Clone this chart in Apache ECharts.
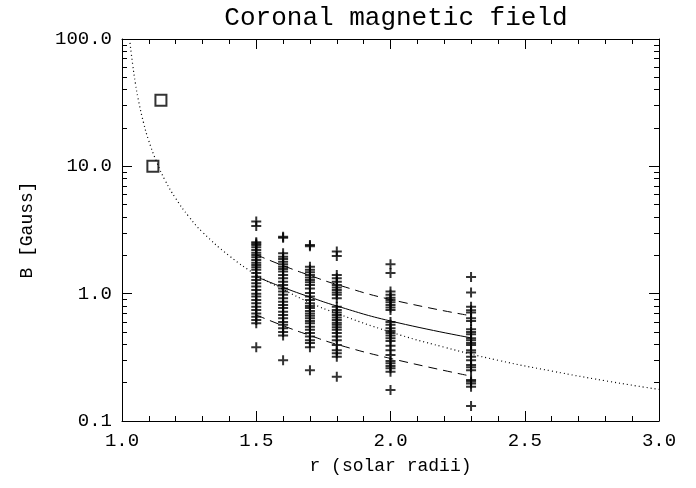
<!DOCTYPE html>
<html>
<head>
<meta charset="utf-8">
<script src="https://cdn.jsdelivr.net/npm/echarts@6/dist/echarts.min.js"></script>
<style>
  html, body { margin: 0; padding: 0; background: #fff; }
  #chart { width: 696px; height: 488px; }
</style>
</head>
<body>
<div id="chart"></div>
<script>
const chart = echarts.init(document.getElementById('chart'));

// measured field strengths (r, B) per radial distance
const r15 = [3.68, 3.40, 2.53, 2.48, 2.41, 2.31, 2.20, 2.10, 2.01, 1.93, 1.84, 1.75, 1.68, 1.61, 1.54, 1.45, 1.36, 1.28, 1.21, 1.14, 1.07, 1.00, 0.95, 0.89, 0.84, 0.79, 0.745, 0.70, 0.66, 0.62, 0.585, 0.38];
const r16 = [2.80, 2.75, 2.08, 1.95, 1.87, 1.78, 1.70, 1.63, 1.56, 1.49, 1.40, 1.32, 1.24, 1.17, 1.10, 1.04, 0.98, 0.92, 0.865, 0.815, 0.77, 0.72, 0.68, 0.64, 0.60, 0.57, 0.535, 0.50, 0.47, 0.30];
const r17 = [2.41, 2.36, 1.63, 1.54, 1.47, 1.40, 1.34, 1.28, 1.23, 1.17, 1.10, 1.01, 0.95, 0.89, 0.84, 0.80, 0.77, 0.73, 0.70, 0.67, 0.64, 0.61, 0.585, 0.55, 0.52, 0.49, 0.46, 0.43, 0.41, 0.38, 0.25];
const r18 = [2.14, 1.98, 1.40, 1.32, 1.24, 1.17, 1.12, 1.07, 1.02, 0.98, 0.92, 0.79, 0.745, 0.71, 0.68, 0.65, 0.62, 0.59, 0.57, 0.545, 0.52, 0.49, 0.46, 0.43, 0.395, 0.36, 0.34, 0.32, 0.223];
const r20 = [1.70, 1.45, 1.04, 0.98, 0.93, 0.89, 0.855, 0.815, 0.78, 0.745, 0.60, 0.57, 0.535, 0.51, 0.49, 0.47, 0.447, 0.425, 0.39, 0.36, 0.33, 0.296, 0.284, 0.27, 0.26, 0.244, 0.175];
const r23 = [1.35, 1.02, 0.79, 0.74, 0.71, 0.64, 0.61, 0.525, 0.50, 0.48, 0.447, 0.43, 0.41, 0.395, 0.36, 0.345, 0.32, 0.30, 0.275, 0.264, 0.25, 0.21, 0.204, 0.197, 0.186, 0.131];
const columns = [[1.5, r15], [1.6, r16], [1.7, r17], [1.8, r18], [2.0, r20], [2.3, r23]];

// low-corona estimates (squares)
const squares = [[1.115, 10.0], [1.145, 33.0]];

// fit and spread
const fitR = [1.5, 1.6, 1.7, 1.8, 2.0, 2.3];
const fitB = [1.36, 1.12, 0.94, 0.80, 0.61, 0.45];
const upperB = [2.02, 1.66, 1.39, 1.18, 0.90, 0.67];
const lowerB = [0.68, 0.56, 0.47, 0.40, 0.31, 0.225];

// model curve (dotted)
const modelR = [1.028, 1.04, 1.05, 1.06, 1.08, 1.10, 1.13, 1.16, 1.20, 1.25, 1.30, 1.40, 1.50, 1.60, 1.70, 1.80, 2.0, 2.2, 2.4, 2.6, 2.8, 3.0];
const modelB = [100, 62.5, 44.7, 34.0, 22.1, 15.8, 10.7, 7.8, 5.6, 4.0, 3.04, 1.98, 1.41, 1.08, 0.85, 0.70, 0.50, 0.38, 0.30, 0.247, 0.207, 0.177];

const yMinorTicks = [0.2, 0.3, 0.4, 0.5, 0.6, 0.7, 0.8, 0.9, 2, 3, 4, 5, 6, 7, 8, 9, 20, 30, 40, 50, 60, 70, 80, 90];

const font = '"Liberation Mono", monospace';
const crossPath = 'path://M4,0H6V4H10V6H6V10H4V6H0V4H4Z';

const crosses = [];
columns.forEach(([r, vals]) => vals.forEach(b => crosses.push([r, b])));
const zip = (xs, ys) => xs.map((x, i) => [x, ys[i]]);

const axisLine = { show: true, onZero: false, lineStyle: { color: '#000', width: 1 } };

const xBase = {
  type: 'value', min: 1, max: 3, interval: 0.5,
  axisLine,
  axisTick: { inside: true, length: 10, lineStyle: { color: '#000' } },
  minorTick: { show: true, splitNumber: 5, length: 5, lineStyle: { color: '#000' } },
  splitLine: { show: false }
};
const yBase = {
  type: 'log', logBase: 10, min: 0.1, max: 100,
  axisLine,
  axisTick: { inside: true, length: 10, lineStyle: { color: '#000' } },
  splitLine: { show: false }
};
const yMinor = {
  type: 'log', logBase: 10, min: 0.1, max: 100,
  axisLine: { show: false },
  axisLabel: { show: false },
  axisTick: { inside: true, length: 5, customValues: yMinorTicks, lineStyle: { color: '#000' } },
  splitLine: { show: false }
};

const option = {
  backgroundColor: '#fff',
  animation: false,
  title: {
    text: 'Coronal magnetic field',
    left: 391, top: 0, textAlign: 'center',
    textStyle: { fontFamily: font, fontSize: 26, fontWeight: 'normal', color: '#000' }
  },
  grid: { left: 122, right: 37, top: 39, bottom: 67, containLabel: false, outerBoundsMode: 'none' },
  xAxis: [
    Object.assign({}, xBase, {
      position: 'bottom',
      name: 'r (solar radii)', nameLocation: 'middle', nameGap: 36,
      nameTextStyle: { fontFamily: font, fontSize: 18, color: '#000' },
      axisLabel: { fontFamily: font, fontSize: 19, color: '#000', margin: 10, formatter: v => v.toFixed(1) }
    }),
    Object.assign({}, xBase, { position: 'top', axisLabel: { show: false } })
  ],
  yAxis: [
    Object.assign({}, yBase, {
      position: 'left',
      name: 'B [Gauss]', nameLocation: 'middle', nameGap: 86,
      nameTextStyle: { fontFamily: font, fontSize: 18, color: '#000' },
      axisLabel: { fontFamily: font, fontSize: 19, color: '#000', margin: 10, formatter: v => Number(v).toFixed(1) }
    }),
    Object.assign({}, yMinor, { position: 'left' }),
    Object.assign({}, yBase, { position: 'right', axisLabel: { show: false } }),
    Object.assign({}, yMinor, { position: 'right' })
  ],
  series: [
    {
      type: 'line', data: zip(modelR, modelB), smooth: true, symbol: 'none',
      lineStyle: { color: '#000', width: 1.2, type: [1, 3] }
    },
    {
      type: 'line', data: zip(fitR, fitB), smooth: true, symbol: 'none',
      lineStyle: { color: '#000', width: 1 }
    },
    {
      type: 'line', data: zip(fitR, upperB), smooth: true, symbol: 'none',
      lineStyle: { color: '#000', width: 1, type: [9, 6] }
    },
    {
      type: 'line', data: zip(fitR, lowerB), smooth: true, symbol: 'none',
      lineStyle: { color: '#000', width: 1, type: [9, 6] }
    },
    {
      type: 'scatter', data: crosses, symbol: crossPath, symbolSize: 10,
      itemStyle: { color: '#000' }
    },
    {
      type: 'scatter', data: squares, symbol: 'rect', symbolSize: 11,
      itemStyle: { color: '#fff', borderColor: '#000', borderWidth: 2 }
    }
  ]
};

chart.setOption(option);
</script>
</body>
</html>
